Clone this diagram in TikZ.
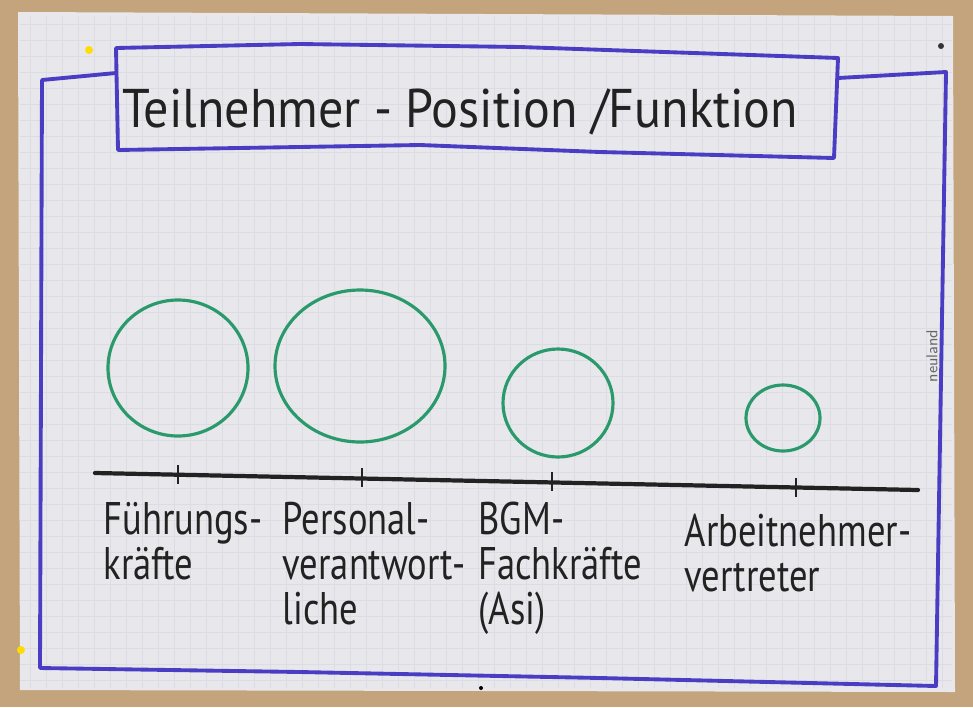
\documentclass[tikz,border=0pt]{standalone}
\usepackage{fontspec}
\newfontfamily\hand[FakeStretch=0.8]{PT Sans}
\newfontfamily\titlehand[FakeStretch=0.92]{PT Sans}
\usetikzlibrary{calc}

\definecolor{board}{HTML}{C4A47C}
\definecolor{paper}{HTML}{E8E8EC}
\definecolor{gridgray}{HTML}{DCDCE3}
\definecolor{marker}{HTML}{4A3DC4}
\definecolor{bubblegreen}{HTML}{2A9A6C}
\definecolor{ink}{HTML}{222222}

\tikzset{
  frame/.style={marker, line width=2.2pt, line join=round, line cap=round},
  bubble/.style={bubblegreen, line width=1.8pt},
  axis/.style={ink, line width=2.4pt, line cap=round},
  tickmark/.style={ink, line width=1pt},
  gridline/.style={gridgray, line width=0.3pt},
  label text/.style={ink, align=left, inner sep=0pt, anchor=north,
    font=\hand\fontsize{26}{25.5}\selectfont},
}

\begin{document}
\begin{tikzpicture}[x=0.02cm, y=-0.02cm]
   \useasboundingbox (0,0) rectangle (973,707);
   \fill[board] (0,0) rectangle (973,707);
   % flipchart sheet
   \fill[paper] (18,12) -- (953,16) -- (955,692) -- (20,690) -- cycle;
   \foreach \gx in {30,46,...,950} \draw[gridline] (\gx,16) -- (\gx,688);
   \foreach \gy in {24,40,...,688} \draw[gridline] (20,\gy) -- (952,\gy);
   % pins
   \fill[yellow!80!orange] (89,50) circle (4);
   \fill[yellow!80!orange] (21,650) circle (4);
   \fill[black!80] (941,46) circle (3);
   \fill[black] (481,688) circle (2);

   % frame and title box
   \draw[frame] (116,73) -- (42,80) -- (40,668) -- (300,672) -- (600,678)
      -- (936,686) -- (946,72) -- (838,78);
   \draw[frame] (116,48) -- (300,44) -- (520,47) -- (838,58) -- (834,158)
      -- (600,152) -- (420,145) -- (118,150) -- cycle;
   \node[ink, anchor=base west, inner sep=0pt, font=\titlehand\fontsize{31}{31}\selectfont]
      (title) at (122,127) {Teilnehmer - Position /Funktion};

   % bubbles
   \coordinate (c1) at (178,368);
   \coordinate (c2) at (360,366);
   \coordinate (c3) at (558,403);
   \coordinate (c4) at (783,418);
   \draw[bubble] (c1) ellipse [x radius=70, y radius=68];
   \draw[bubble] (c2) ellipse [x radius=85, y radius=76];
   \draw[bubble] (c3) ellipse [x radius=55, y radius=54];
   \draw[bubble] (c4) ellipse [x radius=37, y radius=33];

   % axis with ticks
   \coordinate (axL) at (95,473);
   \coordinate (axR) at (918,490);
   \draw[axis] (axL) -- (axR);
   \coordinate (t1) at (178,475);
   \coordinate (t2) at (362,478);
   \coordinate (t3) at (552,482);
   \coordinate (t4) at (796,488);
   \foreach \t in {t1,t2,t3,t4}
      \draw[tickmark] ($(\t)+(0,-10)$) -- ($(\t)+(0,9)$);

   % labels
   \node[label text] (lfk) at ($(t1)+(5,27)$) {Führungs-\\kräfte};
   \node[label text] (lpv) at ($(t2)+(12,24)$) {Personal-\\verantwort-\\liche};
   \node[label text] (lbgm) at ($(t3)+(8,20)$) {BGM-\\Fachkräfte\\(Asi)};
   \node[label text] (lanv) at ($(t4)+(2,26)$) {Arbeitnehmer-\\vertreter};

   \node[rotate=90, text=black!60, font=\sffamily\fontsize{9}{9}\selectfont]
      (brand) at (932,356) {neuland};
\end{tikzpicture}
\end{document}
